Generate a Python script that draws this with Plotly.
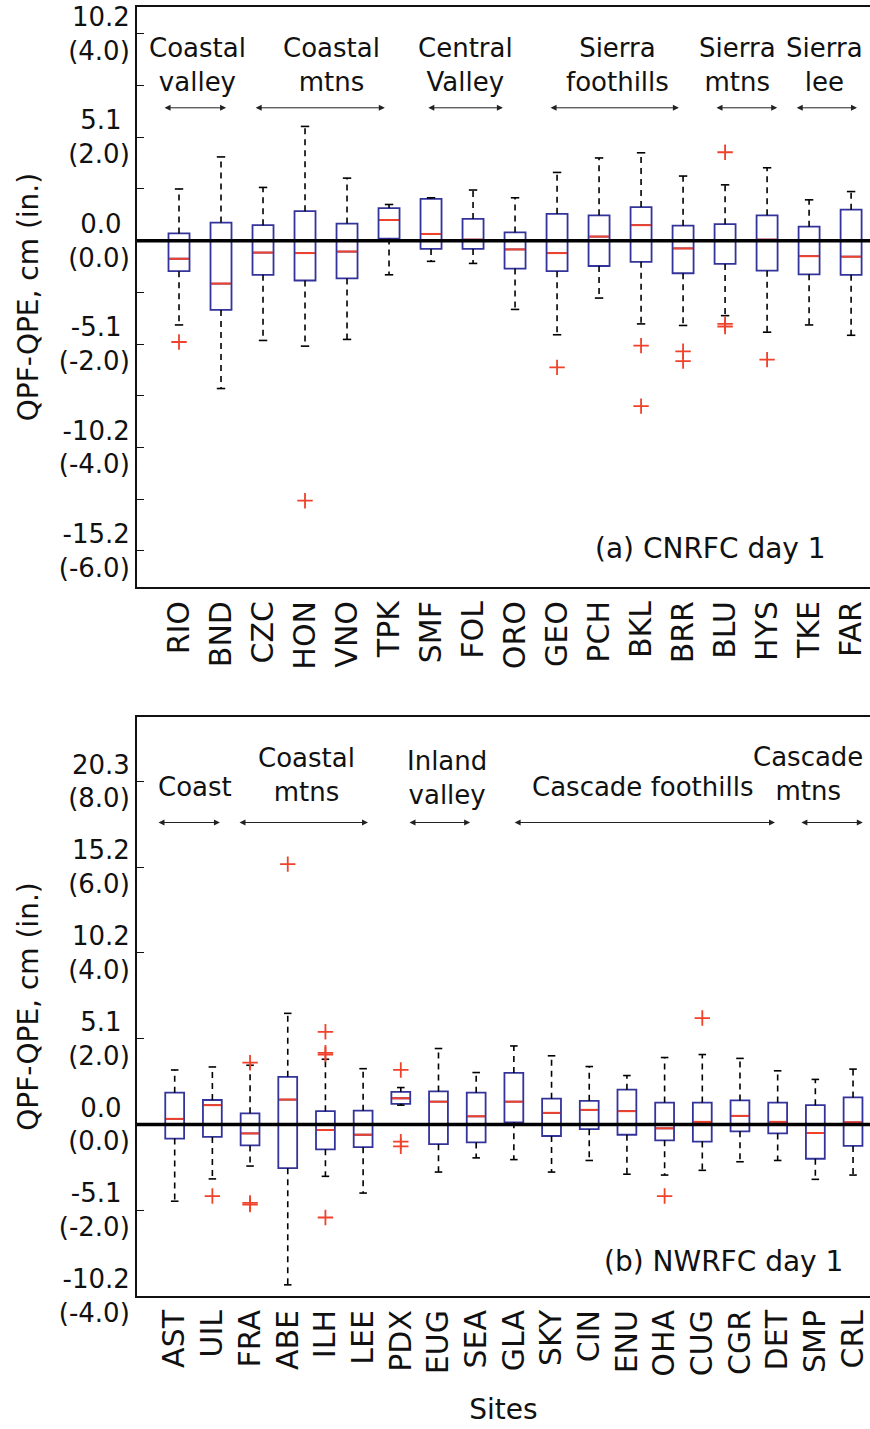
import plotly.graph_objects as go

# ---------------- Panel (a) CNRFC day 1 (values in inches) ----------------
sites_a = ["RIO", "BND", "CZC", "HON", "VNO", "TPK", "SMF", "FOL", "ORO",
           "GEO", "PCH", "BKL", "BRR", "BLU", "HYS", "TKE", "FAR"]
upper_a = [1.00, 1.62, 1.03, 2.21, 1.21, 0.70, 0.83, 0.98, 0.83,
           1.32, 1.60, 1.70, 1.25, 1.08, 1.41, 0.79, 0.95]
q3_a = [0.14, 0.35, 0.30, 0.57, 0.33, 0.63, 0.81, 0.42, 0.16,
        0.52, 0.49, 0.65, 0.29, 0.32, 0.49, 0.27, 0.60]
med_a = [-0.35, -0.83, -0.23, -0.24, -0.21, 0.40, 0.13, 0.02, -0.17,
         -0.24, 0.08, 0.30, -0.15, 0.00, 0.02, -0.30, -0.31]
q1_a = [-0.59, -1.34, -0.66, -0.77, -0.73, 0.04, -0.16, -0.16, -0.54,
        -0.59, -0.49, -0.41, -0.63, -0.45, -0.58, -0.65, -0.66]
lower_a = [-1.63, -2.86, -1.93, -2.04, -1.91, -0.66, -0.40, -0.44, -1.33,
           -1.82, -1.11, -1.61, -1.64, -1.45, -1.77, -1.63, -1.83]
outlier_site_a = ["RIO", "HON", "GEO", "BKL", "BKL", "BRR", "BRR", "BLU", "BLU", "BLU", "HYS"]
outlier_val_a = [-1.96, -5.03, -2.45, -2.03, -3.20, -2.14, -2.33, 1.71, -1.61, -1.66, -2.30]

groups_a = ["Coastal<br>valley", "Coastal<br>mtns", "Central<br>Valley",
            "Sierra<br>foothills", "Sierra<br>mtns", "Sierra<br>lee"]
group_text_x_a = [1.44, 4.64, 7.81, 11.45, 14.3, 16.36]
group_start_a = [0.62, 2.79, 6.90, 9.81, 13.76, 15.67]
group_end_a = [2.12, 5.90, 8.71, 12.90, 15.24, 17.14]

NB = "\u00a0"
yticks_a = [-6, -5, -4, -3, -2, -1, 0, 1, 2, 3, 4]
yticktext_a = ["-15.2<br>(-6.0)", "", "-10.2<br>(-4.0)", "", "-5.1" + NB + "<br>(-2.0)", "",
               "0.0" + NB + "<br>(0.0)", "", "5.1" + NB + "<br>(2.0)", "", "10.2<br>(4.0)"]

# ---------------- Panel (b) NWRFC day 1 (values in inches) ----------------
sites_b = ["AST", "UIL", "FRA", "ABE", "ILH", "LEE", "PDX", "EUG", "SEA", "GLA",
           "SKY", "CIN", "ENU", "OHA", "CUG", "CGR", "DET", "SMP", "CRL"]
upper_b = [1.27, 1.34, 1.38, 2.59, 1.52, 1.30, 0.86, 1.77, 1.21, 1.83,
           1.60, 1.35, 1.14, 1.56, 1.63, 1.54, 1.25, 1.05, 1.29]
q3_b = [0.74, 0.57, 0.26, 1.11, 0.31, 0.32, 0.76, 0.77, 0.74, 1.20,
        0.60, 0.55, 0.81, 0.51, 0.51, 0.56, 0.51, 0.45, 0.63]
med_b = [0.13, 0.45, -0.21, 0.58, -0.13, -0.24, 0.61, 0.53, 0.19, 0.53,
         0.27, 0.34, 0.31, -0.09, 0.06, 0.20, 0.06, -0.20, 0.05]
q1_b = [-0.33, -0.29, -0.49, -1.02, -0.58, -0.53, 0.48, -0.46, -0.42, 0.05,
        -0.27, -0.11, -0.24, -0.37, -0.40, -0.16, -0.21, -0.80, -0.50]
lower_b = [-1.79, -1.27, -0.97, -3.74, -1.21, -1.60, 0.45, -1.11, -0.78, -0.82,
           -1.11, -0.84, -1.16, -1.18, -1.07, -0.87, -0.84, -1.28, -1.18]
outlier_site_b = ["UIL", "FRA", "FRA", "FRA", "ABE", "ILH", "ILH", "ILH", "ILH",
                  "PDX", "PDX", "PDX", "OHA", "CUG"]
outlier_val_b = [-1.67, 1.44, -1.83, -1.87, 6.07, 2.16, 1.67, 1.63, -2.17,
                 1.27, -0.40, -0.51, -1.67, 2.48]

groups_b = ["Coast", "Coastal<br>mtns", "Inland<br>valley", "Cascade foothills", "Cascade<br>mtns"]
group_text_x_b = [1.54, 4.51, 8.22, 13.40, 17.80]
group_text_y_b = [7.86, 8.14, 8.07, 7.86, 8.16]
group_start_b = [0.53, 2.68, 7.19, 9.98, 17.59]
group_end_b = [2.20, 6.13, 8.84, 16.93, 19.26]

yticks_b = [-4, -2, 0, 2, 4, 6, 8]
yticktext_b = ["-10.2<br>(-4.0)", "-5.1" + NB + "<br>(-2.0)", "0.0" + NB + "<br>(0.0)",
               "5.1" + NB + "<br>(2.0)", "10.2<br>(4.0)", "15.2<br>(6.0)", "20.3<br>(8.0)"]

# ---------------- styling ----------------
FONT = "DejaVu Sans, Liberation Sans, Arial, sans-serif"
TXT = "#111111"
BLUE = "#33339c"
RED = "#f0412a"
BOXW = 0.5
CAPW = 0.1

fig = go.Figure()


def add_panel(sites, upper, q3, med, q1, lower, o_sites, o_vals, xa, ya):
    xs = list(range(1, len(sites) + 1))
    pos = {s: i + 1 for i, s in enumerate(sites)}
    # dashed whiskers
    wx, wy = [], []
    for x, u, t, b, l in zip(xs, upper, q3, q1, lower):
        wx += [x, x, None, x, x, None]
        wy += [t, u, None, b, l, None]
    fig.add_trace(go.Scatter(x=wx, y=wy, mode="lines", xaxis=xa, yaxis=ya,
                             line=dict(color="black", width=1.6, dash="6px,5px"),
                             hoverinfo="skip", showlegend=False))
    # whisker caps
    cx, cy = [], []
    for x, u, l in zip(xs, upper, lower):
        cx += [x - CAPW, x + CAPW, None, x - CAPW, x + CAPW, None]
        cy += [u, u, None, l, l, None]
    fig.add_trace(go.Scatter(x=cx, y=cy, mode="lines", xaxis=xa, yaxis=ya,
                             line=dict(color="black", width=1.6),
                             hoverinfo="skip", showlegend=False))
    # boxes
    fig.add_trace(go.Box(x=xs, q1=q1, median=med, q3=q3, lowerfence=q1, upperfence=q3,
                         xaxis=xa, yaxis=ya, width=BOXW, whiskerwidth=0,
                         line=dict(color=BLUE, width=1.8), fillcolor="rgba(0,0,0,0)",
                         boxpoints=False, showlegend=False))
    # red medians
    mx, my = [], []
    for x, m in zip(xs, med):
        mx += [x - BOXW / 2 + 0.02, x + BOXW / 2 - 0.02, None]
        my += [m, m, None]
    fig.add_trace(go.Scatter(x=mx, y=my, mode="lines", xaxis=xa, yaxis=ya,
                             line=dict(color=RED, width=2),
                             hoverinfo="skip", showlegend=False))
    # outliers
    fig.add_trace(go.Scatter(x=[pos[s] for s in o_sites], y=o_vals, mode="markers",
                             xaxis=xa, yaxis=ya,
                             marker=dict(symbol="cross-thin", size=11,
                                         line=dict(color=RED, width=1.8)),
                             hoverinfo="skip", showlegend=False))


add_panel(sites_a, upper_a, q3_a, med_a, q1_a, lower_a, outlier_site_a, outlier_val_a, "x", "y")
add_panel(sites_b, upper_b, q3_b, med_b, q1_b, lower_b, outlier_site_b, outlier_val_b, "x2", "y2")

# zero lines (drawn above boxes)
for xr, yr in (("x domain", "y"), ("x2 domain", "y2")):
    fig.add_shape(type="line", xref=xr, yref=yr, x0=0, x1=1, y0=0, y1=0,
                  line=dict(color="black", width=3.5), layer="above")

GFS = 26
annotations = []
for txt, tx, s, e in zip(groups_a, group_text_x_a, group_start_a, group_end_a):
    annotations.append(dict(x=tx, y=3.39, xref="x", yref="y", text=txt, showarrow=False,
                            font=dict(family=FONT, size=GFS, color=TXT), align="center"))
    annotations.append(dict(x=e, y=2.57, ax=s, ay=2.57, xref="x", yref="y", axref="x", ayref="y",
                            text="", showarrow=True, arrowside="end+start", arrowhead=2,
                            arrowsize=1.2, arrowwidth=1, arrowcolor="#222"))
for txt, tx, ty, s, e in zip(groups_b, group_text_x_b, group_text_y_b, group_start_b, group_end_b):
    annotations.append(dict(x=tx, y=ty, xref="x2", yref="y2", text=txt, showarrow=False,
                            font=dict(family=FONT, size=GFS, color=TXT), align="center"))
    annotations.append(dict(x=e, y=7.04, ax=s, ay=7.04, xref="x2", yref="y2", axref="x2", ayref="y2",
                            text="", showarrow=True, arrowside="end+start", arrowhead=2,
                            arrowsize=1.2, arrowwidth=1, arrowcolor="#222"))

annotations.append(dict(x=0.9427, y=0.067, xref="paper", yref="y domain", xanchor="right",
                        yanchor="middle", text="(a) CNRFC day 1", showarrow=False,
                        font=dict(family=FONT, size=28, color=TXT)))
annotations.append(dict(x=0.966, y=0.059, xref="paper", yref="y2 domain", xanchor="right",
                        yanchor="middle", text="(b) NWRFC day 1", showarrow=False,
                        font=dict(family=FONT, size=28, color=TXT)))

yfont = dict(family=FONT, size=26, color=TXT)
xfont = dict(family=FONT, size=30, color=TXT)
common_x = dict(showline=True, linecolor=TXT, linewidth=2, mirror=True, ticks="",
                tickangle=-90, tickfont=xfont, showgrid=False, zeroline=False,
                automargin=False)
common_y = dict(showline=True, linecolor=TXT, linewidth=2, ticks="inside", ticklen=7,
                tickwidth=1.2, tickcolor=TXT, tickfont=yfont, showgrid=False,
                zeroline=False, automargin=False,
                title=dict(text="QPF-QPE, cm (in.)", font=dict(family=FONT, size=28, color=TXT),
                           standoff=12))
mirror_y = dict(side="right", showline=False, ticks="inside", ticklen=7, tickwidth=1.2,
                tickcolor=TXT, showticklabels=False, showgrid=False, zeroline=False,
                automargin=False)

fig.update_layout(
    width=870, height=1429,
    margin=dict(l=137, r=0, t=7, b=133),
    paper_bgcolor="white", plot_bgcolor="white",
    font=dict(family=FONT, color=TXT),
    showlegend=False,
    annotations=annotations,
    xaxis=dict(common_x, domain=[0, 1], anchor="y", range=[0, 17.45],
               tickvals=list(range(1, len(sites_a) + 1)), ticktext=sites_a),
    yaxis=dict(common_y, domain=[0.55, 1.0], anchor="x", range=[-6.70, 4.52],
               tickvals=yticks_a, ticktext=yticktext_a),
    yaxis3=dict(mirror_y, overlaying="y", anchor="x", range=[-6.70, 4.52], tickvals=yticks_a),
    xaxis2=dict(common_x, domain=[0, 1], anchor="y2", range=[0, 19.45],
                tickvals=list(range(1, len(sites_b) + 1)), ticktext=sites_b,
                title=dict(text="Sites", font=dict(family=FONT, size=28, color=TXT), standoff=24)),
    yaxis2=dict(common_y, domain=[0, 0.4492], anchor="x2", range=[-4.0, 9.5],
                tickvals=yticks_b, ticktext=yticktext_b),
    yaxis4=dict(mirror_y, overlaying="y2", anchor="x2", range=[-4.0, 9.5], tickvals=yticks_b),
)

fig.write_html("out.html")
